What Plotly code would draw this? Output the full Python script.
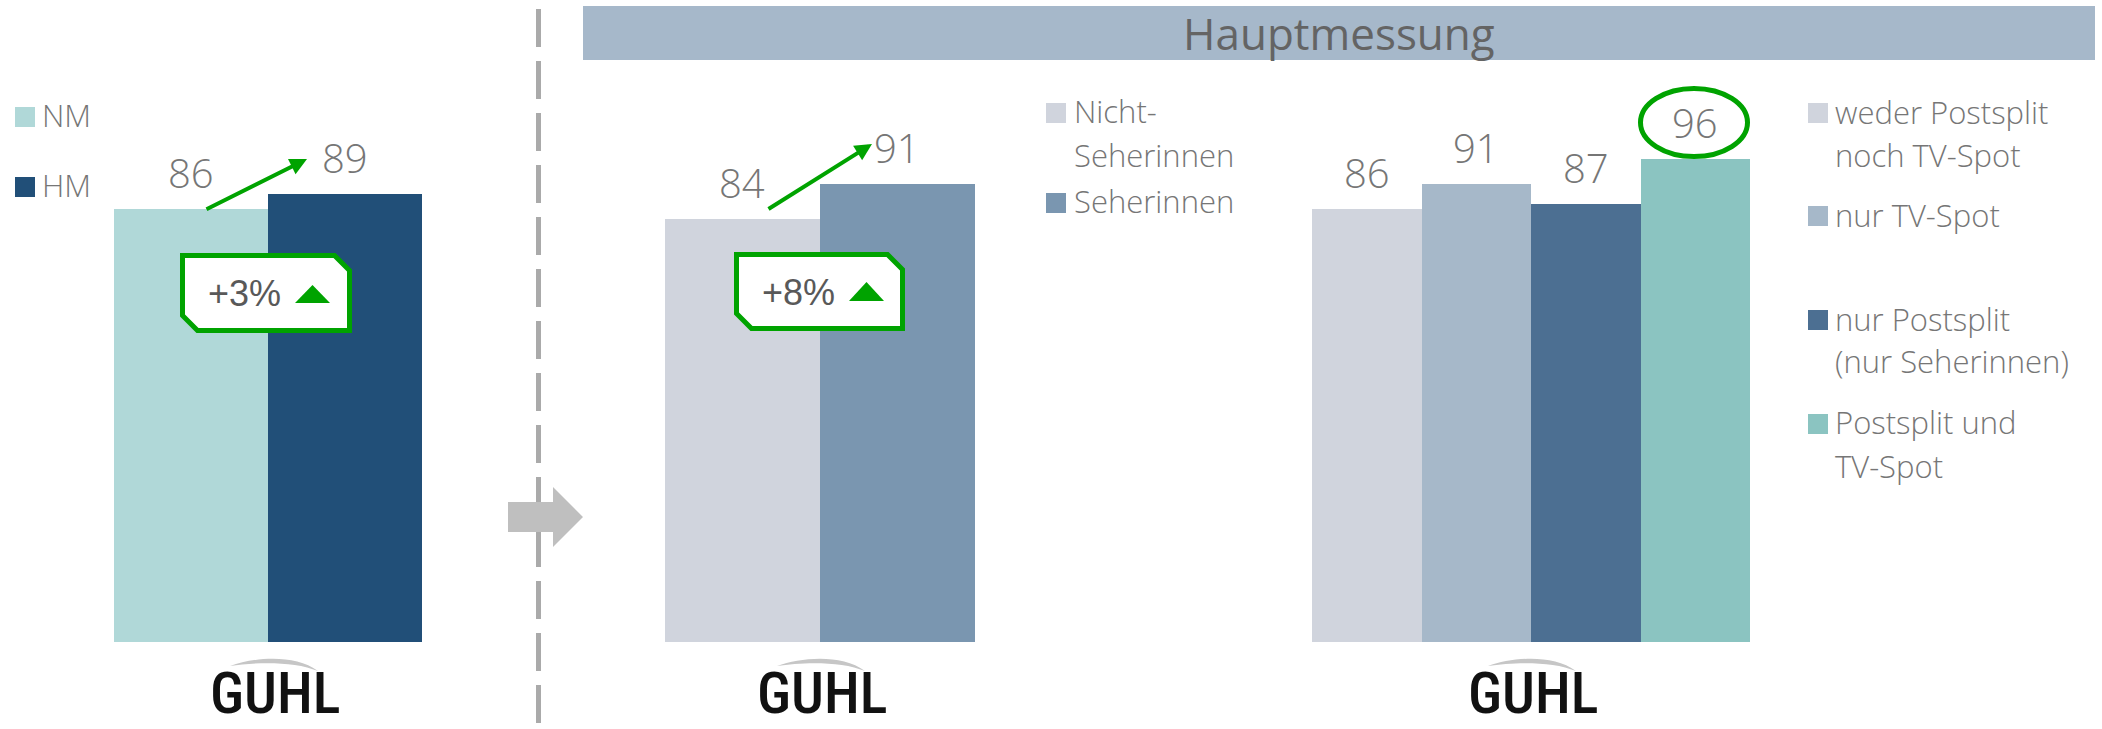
import plotly.graph_objects as go

# ---------------- data ----------------
cats1 = ["NM", "HM"]
vals1 = [86, 89]
cols1 = ["#B0D8D8", "#214F78"]

cats2 = ["Nicht-Seherinnen", "Seherinnen"]
vals2 = [84, 91]
cols2 = ["#D0D4DD", "#7A96B0"]

cats3 = ["weder Postsplit noch TV-Spot", "nur TV-Spot",
         "nur Postsplit (nur Seherinnen)", "Postsplit und TV-Spot"]
vals3 = [86, 91, 87, 96]
cols3 = ["#D0D4DD", "#A6B8C9", "#4C6F92", "#8BC4C1"]

legend1 = [["NM"], ["HM"]]
legend2 = [["Nicht-", "Seherinnen"], ["Seherinnen"]]
legend3 = [["weder Postsplit", "noch TV-Spot"], ["nur TV-Spot"],
           ["nur Postsplit", "(nur Seherinnen)"], ["Postsplit und", "TV-Spot"]]

change_labels = ["+3%", "+8%"]
header = "Hauptmessung"
logo = "GUHL"

# ---------------- geometry helpers ----------------
W, H = 2102, 729
def px(x):
    return x / W
def py(y):
    return 1 - y / H

GREEN = "#00A300"
LABEL_GRAY = "#767676"
TEXT_FONT = "Open Sans"

Y_BOTTOM, Y_TOP = 642, 139  # pixel rows for 0 and 100

fig = go.Figure()
fig.add_trace(go.Bar(x=cats1, y=vals1, marker=dict(color=cols1, line=dict(width=0)),
                     width=1, xaxis="x", yaxis="y", hoverinfo="skip"))
fig.add_trace(go.Bar(x=cats2, y=vals2, marker=dict(color=cols2, line=dict(width=0)),
                     width=1, xaxis="x2", yaxis="y2", hoverinfo="skip"))
fig.add_trace(go.Bar(x=cats3, y=vals3, marker=dict(color=cols3, line=dict(width=0)),
                     width=1, xaxis="x3", yaxis="y3", hoverinfo="skip"))

ydom = [py(Y_BOTTOM), py(Y_TOP)]
def xax(d0, d1, n, anchor):
    return dict(domain=[px(d0), px(d1)], range=[-0.5, n - 0.5], visible=False,
                anchor=anchor, fixedrange=True)
def yax(anchor):
    return dict(domain=ydom, range=[0, 100], visible=False, anchor=anchor, fixedrange=True)

annotations = []
shapes = []

# value labels
for ax_id, cats, vals in [("", cats1, vals1), ("2", cats2, vals2), ("3", cats3, vals3)]:
    for c, v in zip(cats, vals):
        annotations.append(dict(x=c, y=v, xref="x" + ax_id, yref="y" + ax_id,
                                text=str(v), showarrow=False, yanchor="middle",
                                yshift=37,
                                font=dict(family=TEXT_FONT, size=40, color=LABEL_GRAY, weight=300)))

# legends (drawn manually)
def legend(items, colors, sq_x, txt_x, sq_tops, line_centers):
    for lines, col, top, centers in zip(items, colors, sq_tops, line_centers):
        shapes.append(dict(type="rect", xref="paper", yref="paper",
                           x0=px(sq_x), x1=px(sq_x + 20), y0=py(top), y1=py(top + 20),
                           fillcolor=col, line=dict(width=0)))
        for ln, cy in zip(lines, centers):
            annotations.append(dict(x=px(txt_x), y=py(cy), xref="paper", yref="paper",
                                    text=ln, showarrow=False, xanchor="left", yanchor="middle",
                                    font=dict(family=TEXT_FONT, size=31, color=LABEL_GRAY, weight=300)))

legend(legend1, cols1, 15, 40, [107, 177], [[115], [185]])
legend(legend2, cols2, 1046, 1072, [103, 193], [[111, 155], [201]])
legend(legend3, cols3, 1808, 1833, [103, 206, 310, 414],
       [[112, 155], [215], [319, 361], [422, 466]])

# header band
shapes.append(dict(type="rect", xref="paper", yref="paper", x0=px(583), x1=px(2095),
                   y0=py(6), y1=py(60), fillcolor="#A6B8CA", line=dict(width=0)))
annotations.append(dict(x=px(1339), y=py(33), xref="paper", yref="paper", text=header,
                        showarrow=False, xanchor="center", yanchor="middle",
                        font=dict(family=TEXT_FONT, size=44, color="#646464", weight=400)))

# dashed separator
shapes.append(dict(type="line", xref="paper", yref="paper", x0=px(538.5), x1=px(538.5),
                   y0=py(9), y1=py(735), line=dict(color="#AAAAAA", width=5, dash="38px,14px")))

# gray arrow
pts = [(508, 502), (553, 502), (553, 487), (583, 517), (553, 547), (553, 532), (508, 532)]
shapes.append(dict(type="path", xref="paper", yref="paper",
                   path="M" + " L".join(f"{px(a)},{py(b)}" for a, b in pts) + " Z",
                   fillcolor="#BFBFBF", line=dict(width=0)))

# green trend arrows
for (sx, sy), (tx, ty) in [((205, 210), (307, 159)), ((767, 210), (872, 144))]:
    annotations.append(dict(x=px(tx), y=py(ty), xref="paper", yref="paper", text="",
                            showarrow=True, ax=sx - tx, ay=sy - ty, axref="pixel", ayref="pixel",
                            arrowhead=2, arrowsize=0.85, arrowwidth=4, arrowcolor=GREEN,
                            standoff=0))

# callout boxes
def callout(x0, y0, x1, y1, label, tcx, tri):
    c = 15
    pts = [(x0, y0), (x1 - c, y0), (x1, y0 + c), (x1, y1), (x0 + c, y1), (x0, y1 - c)]
    shapes.append(dict(type="path", xref="paper", yref="paper",
                       path="M" + " L".join(f"{px(a)},{py(b)}" for a, b in pts) + " Z",
                       fillcolor="white", line=dict(color=GREEN, width=5)))
    annotations.append(dict(x=px(tcx), y=py((y0 + y1) / 2 + 1), xref="paper", yref="paper",
                            text=label, showarrow=False, xanchor="center", yanchor="middle",
                            font=dict(family="Liberation Sans", size=36, color="#595959")))
    a, b, c2, d = tri
    tpts = [(a, d), (c2, d), ((a + c2) / 2, b)]
    shapes.append(dict(type="path", xref="paper", yref="paper",
                       path="M" + " L".join(f"{px(p)},{py(q)}" for p, q in tpts) + " Z",
                       fillcolor=GREEN, line=dict(width=0)))

callout(182.5, 255.5, 349.5, 330.5, change_labels[0], 244, (295, 285, 330, 303))
callout(736.5, 254.5, 902.5, 328.5, change_labels[1], 798, (849, 282, 884, 301))

# ellipse around highest value
shapes.append(dict(type="circle", xref="paper", yref="paper", x0=px(1640.5), x1=px(1747.5),
                   y0=py(88.5), y1=py(156.5), line=dict(color=GREEN, width=5)))

# logos
LOGO_FONT = ("Noto Sans ExtraCondensed, Noto Sans Condensed, Roboto Condensed, "
             "Liberation Sans Narrow, DejaVu Sans Condensed, DejaVu Sans, sans-serif")
for cx in [275, 822, 1533]:
    sw = [(cx - 45, 666), (cx - 20, 657), (cx + 20, 654), (cx + 43, 671),
          (cx + 20, 661), (cx - 20, 662), (cx - 45, 666)]
    p = (f"M{px(sw[0][0])},{py(sw[0][1])} C{px(sw[1][0])},{py(sw[1][1])} "
         f"{px(sw[2][0])},{py(sw[2][1])} {px(sw[3][0])},{py(sw[3][1])} "
         f"C{px(sw[4][0])},{py(sw[4][1])} {px(sw[5][0])},{py(sw[5][1])} "
         f"{px(sw[6][0])},{py(sw[6][1])} Z")
    shapes.append(dict(type="path", xref="paper", yref="paper", path=p,
                       fillcolor="#C6C6C6", line=dict(width=0)))
    annotations.append(dict(x=px(cx), y=py(729), xref="paper", yref="paper", text=logo,
                            showarrow=False, xanchor="center", yanchor="bottom",
                            font=dict(family=LOGO_FONT, size=58, color="#111111", weight=500)))

fig.update_layout(
    width=W, height=H, margin=dict(l=0, r=0, t=0, b=0),
    paper_bgcolor="white", plot_bgcolor="white",
    showlegend=False, bargap=0, hovermode=False,
    xaxis=xax(114, 422, 2, "y"), yaxis=yax("x"),
    xaxis2=xax(665, 975, 2, "y2"), yaxis2=yax("x2"),
    xaxis3=xax(1312, 1750, 4, "y3"), yaxis3=yax("x3"),
    annotations=annotations, shapes=shapes,
)

fig.write_html("out.html", config={"displayModeBar": False, "staticPlot": True},
               post_script="document.body.style.margin='0';document.body.style.overflow='hidden';")
